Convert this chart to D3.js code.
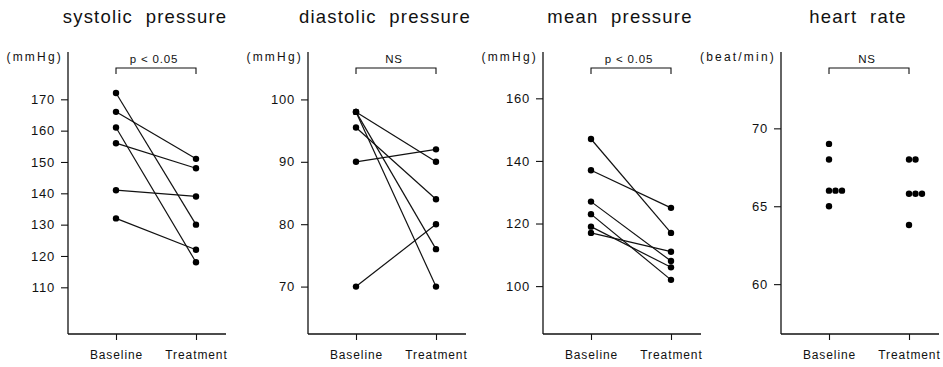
<!DOCTYPE html>
<html>
<head>
<meta charset="utf-8">
<script src="https://cdn.jsdelivr.net/npm/d3@7"></script>
<style>
  html, body { margin: 0; padding: 0; background: #fff; }
  svg { display: block; }
  text { font-family: "Liberation Sans", Arial, sans-serif; fill: #111; }
</style>
</head>
<body>
<svg id="chart" width="943" height="367"></svg>
<script>
// ---- data ----
const groups = ["Baseline", "Treatment"];

const systolicBaseline  = [172, 166, 161, 156, 141, 132];
const systolicTreatment = [130, 151, 118, 148, 139, 122];

const diastolicBaseline  = [98, 98, 98, 95.5, 90, 70];
const diastolicTreatment = [90, 76, 70, 84, 92, 80];

const meanBaseline  = [147, 137, 127, 123, 119, 117];
const meanTreatment = [117, 125, 108, 102, 106, 111];

const hrBaseline  = [69, 68, 66, 66, 66, 65];
const hrTreatment = [68, 68, 65.8, 65.8, 65.8, 63.8];

const titles = ["systolic  pressure", "diastolic  pressure", "mean  pressure", "heart  rate"];
const units = ["(mmHg)", "(mmHg)", "(mmHg)", "(beat/min)"];
const significance = ["p < 0.05", "NS", "p < 0.05", "NS"];

const systolicTicks = [110, 120, 130, 140, 150, 160, 170];
const diastolicTicks = [70, 80, 90, 100];
const meanTicks = [100, 120, 140, 160];
const hrTicks = [60, 65, 70];

// ---- layout config ----
const panels = [
  { left: 68,  domain: [95.1, 185.1], ticks: systolicTicks,  b: systolicBaseline,  t: systolicTreatment,  paired: true },
  { left: 308, domain: [62.4, 107.6], ticks: diastolicTicks, b: diastolicBaseline, t: diastolicTreatment, paired: true },
  { left: 543, domain: [84.7, 174.8], ticks: meanTicks,      b: meanBaseline,      t: meanTreatment,      paired: true },
  { left: 781, domain: [56.8, 74.9],  ticks: hrTicks,        b: hrBaseline,        t: hrTreatment,        paired: false }
];

const yTop = 52, yBottom = 334, axisLen = 158;
const svg = d3.select("#chart");

panels.forEach((p, i) => {
  const g = svg.append("g").attr("transform", `translate(${p.left},0)`);
  const x = d3.scalePoint().domain(groups).range([48, 128]);
  const y = d3.scaleLinear().domain(p.domain).range([yBottom, yTop]);

  // title
  g.append("text")
    .attr("x", 77).attr("y", 23)
    .attr("text-anchor", "middle")
    .attr("font-size", 18.5)
    .attr("letter-spacing", 1.2)
    .style("white-space", "pre")
    .text(titles[i]);

  // y axis
  const yAxis = d3.axisLeft(y).tickValues(p.ticks).tickSize(7).tickPadding(6).tickFormat(d3.format("d"));
  const ya = g.append("g").call(yAxis);
  ya.select(".domain").remove();
  ya.selectAll("line").attr("stroke", "#111").attr("stroke-width", 1.1);
  ya.selectAll("text").attr("font-size", 13).attr("letter-spacing", 0.8).attr("fill", "#111")
    .style("font-family", "'Liberation Sans', Arial, sans-serif");
  g.append("line").attr("x1", 0).attr("x2", 0).attr("y1", yTop).attr("y2", yBottom)
    .attr("stroke", "#111").attr("stroke-width", 1.3);

  // x axis
  const xAxis = d3.axisBottom(x).tickSize(6).tickPadding(10);
  const xa = g.append("g").attr("transform", `translate(0,${yBottom})`).call(xAxis);
  xa.select(".domain").remove();
  xa.selectAll("line").attr("stroke", "#111").attr("stroke-width", 1.1);
  xa.selectAll("text").attr("font-size", 12).attr("letter-spacing", 0.9).attr("fill", "#111")
    .style("font-family", "'Liberation Sans', Arial, sans-serif");
  g.append("line").attr("x1", 0).attr("x2", axisLen).attr("y1", yBottom).attr("y2", yBottom)
    .attr("stroke", "#111").attr("stroke-width", 1.3);

  // unit label
  g.append("text")
    .attr("x", -5).attr("y", 61)
    .attr("text-anchor", "end")
    .attr("font-size", 12)
    .attr("letter-spacing", 2.2)
    .text(units[i]);

  // significance bracket
  const bx0 = x("Baseline"), bx1 = x("Treatment");
  g.append("path")
    .attr("d", `M${bx0},74V68H${bx1}V74`)
    .attr("fill", "none").attr("stroke", "#111").attr("stroke-width", 1.1);
  g.append("text")
    .attr("x", (bx0 + bx1) / 2 - 2).attr("y", 63)
    .attr("text-anchor", "middle")
    .attr("font-size", 11.5)
    .attr("letter-spacing", 0.8)
    .text(significance[i]);

  if (p.paired) {
    const pairs = p.b.map((v, k) => ({ b: v, t: p.t[k] }));
    g.selectAll(".pair").data(pairs).enter().append("line")
      .attr("x1", x("Baseline")).attr("y1", d => y(d.b))
      .attr("x2", x("Treatment")).attr("y2", d => y(d.t))
      .attr("stroke", "#111").attr("stroke-width", 1.2);
    const pts = [];
    p.b.forEach(v => pts.push({ g: "Baseline", v }));
    p.t.forEach(v => pts.push({ g: "Treatment", v }));
    g.selectAll(".dot").data(pts).enter().append("circle")
      .attr("cx", d => x(d.g)).attr("cy", d => y(d.v)).attr("r", 3.2).attr("fill", "#000");
  } else {
    // unpaired dot plot: ties are spread horizontally
    const pts = [];
    [["Baseline", p.b], ["Treatment", p.t]].forEach(([grp, arr]) => {
      const seen = {};
      arr.forEach(v => {
        const k = seen[v] || 0;
        seen[v] = k + 1;
        pts.push({ g: grp, v, k });
      });
    });
    g.selectAll(".dot").data(pts).enter().append("circle")
      .attr("cx", d => x(d.g) + d.k * 6.5).attr("cy", d => y(d.v)).attr("r", 3.2).attr("fill", "#000");
  }
});
</script>
</body>
</html>
